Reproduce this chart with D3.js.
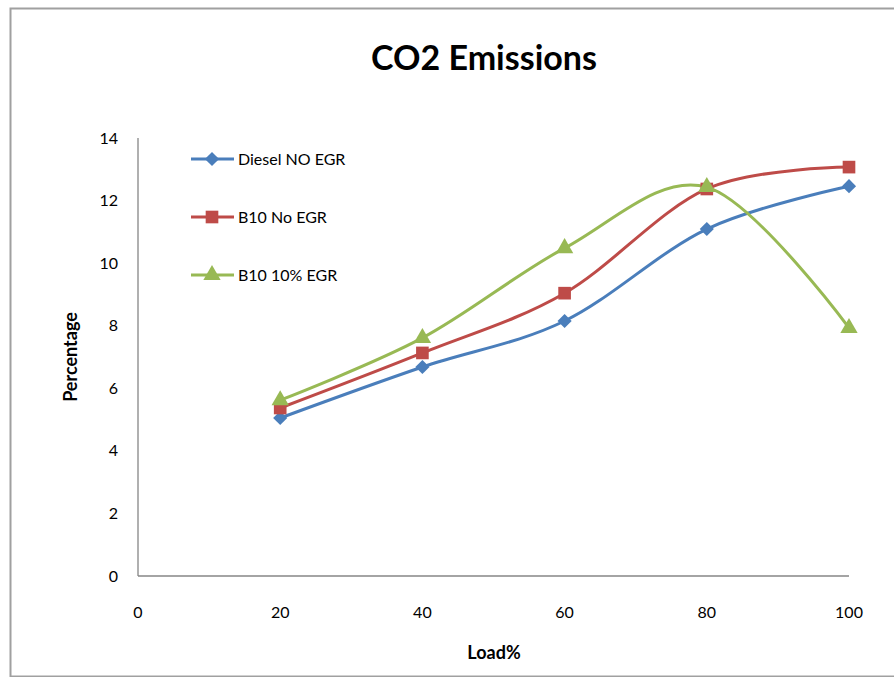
<!DOCTYPE html>
<html>
<head>
<meta charset="utf-8">
<script src="https://cdn.jsdelivr.net/npm/d3@7"></script>
<style>
  body { margin: 0; background: #fff; }
  text { font-family: Lato, "Open Sans", sans-serif; fill: #000; }
</style>
</head>
<body>
<div id="vis"></div>
<script>
// ----- DATA ----- //
const loads = [20, 40, 60, 80, 100];
const dieselNoEgr = [5.05, 6.68, 8.15, 11.09, 12.46];
const b10NoEgr = [5.37, 7.13, 9.04, 12.37, 13.07];
const b10Egr10 = [5.62, 7.61, 10.48, 12.43, 7.93];
const seriesNames = ["Diesel NO EGR", "B10 No EGR", "B10 10% EGR"];
const xTicks = [0, 20, 40, 60, 80, 100];
const yTicks = [0, 2, 4, 6, 8, 10, 12, 14];

const seriesValues = [dieselNoEgr, b10NoEgr, b10Egr10];
const colors = ["#4a7ebb", "#be4b48", "#98b954"];

// excel-style diamond: a square turned 45 degrees
const symbolWideDiamond = {
  draw(ctx, size) {
    const r = Math.sqrt(size / 2);
    ctx.moveTo(0, -r);
    ctx.lineTo(r, 0);
    ctx.lineTo(0, r);
    ctx.lineTo(-r, 0);
    ctx.closePath();
  }
};
const symbols = [symbolWideDiamond, d3.symbolSquare, d3.symbolTriangle];
const symSizes = [100, 160, 130];

const W = 894, H = 677;
const svg = d3.select("#vis").append("svg")
  .attr("width", W)
  .attr("height", H);

// outer chart frame
svg.append("rect")
  .attr("x", 10.5).attr("y", 8.5)
  .attr("width", W + 20).attr("height", 668)
  .attr("fill", "none")
  .attr("stroke", "#a0a0a0")
  .attr("stroke-width", 2);

// ----- SCALES ----- //
const x = d3.scaleLinear().domain([0, 100]).range([138, 849]);
const y = d3.scaleLinear().domain([0, 14]).range([576, 138]);

// axes lines (no tick marks)
svg.append("line")
  .attr("x1", x(0)).attr("x2", x(0))
  .attr("y1", y(14)).attr("y2", y(0))
  .attr("stroke", "#868686").attr("stroke-width", 1.3);
svg.append("line")
  .attr("x1", x(0)).attr("x2", x(100))
  .attr("y1", y(0)).attr("y2", y(0))
  .attr("stroke", "#868686").attr("stroke-width", 1.3);

// tick labels
svg.selectAll(".ytick")
  .data(yTicks)
  .join("text")
  .attr("class", "ytick")
  .attr("x", 118)
  .attr("y", (d) => y(d))
  .attr("dy", "0.35em")
  .attr("text-anchor", "end")
  .style("font-size", "16px")
  .text((d) => d);

svg.selectAll(".xtick")
  .data(xTicks)
  .join("text")
  .attr("class", "xtick")
  .attr("x", (d) => x(d))
  .attr("y", 612)
  .attr("dy", "0.35em")
  .attr("text-anchor", "middle")
  .style("font-size", "16px")
  .text((d) => d);

// axis titles
svg.append("text")
  .attr("x", 494).attr("y", 659)
  .attr("text-anchor", "middle")
  .style("font-size", "18px")
  .style("font-weight", "bold")
  .text("Load%");

svg.append("text")
  .attr("transform", "translate(77,357) rotate(-90)")
  .attr("text-anchor", "middle")
  .style("font-size", "18px")
  .style("font-weight", "bold")
  .text("Percentage");

// title
svg.append("text")
  .attr("x", 484).attr("y", 70)
  .attr("text-anchor", "middle")
  .style("font-size", "34px")
  .style("font-weight", "bold")
  .text("CO2 Emissions");

// ----- LINES ----- //
const line = d3.line()
  .x((d, i) => x(loads[i]))
  .y((d) => y(d))
  .curve(d3.curveCatmullRom.alpha(0));

seriesValues.forEach((vals, s) => {
  svg.append("path")
    .datum(vals)
    .attr("d", line)
    .attr("fill", "none")
    .attr("stroke", colors[s])
    .attr("stroke-width", 3);
});

seriesValues.forEach((vals, s) => {
  svg.selectAll(".pt" + s)
    .data(vals)
    .join("path")
    .attr("class", "pt" + s)
    .attr("transform", (d, i) => `translate(${x(loads[i])},${y(d)})`)
    .attr("d", d3.symbol().type(symbols[s]).size(symSizes[s]))
    .attr("fill", colors[s]);
});

// ----- LEGEND ----- //
const legendY = [159, 217, 275];
seriesNames.forEach((name, s) => {
  const g = svg.append("g").attr("transform", `translate(0,${legendY[s]})`);
  g.append("line")
    .attr("x1", 191).attr("x2", 234)
    .attr("stroke", colors[s]).attr("stroke-width", 3);
  g.append("path")
    .attr("transform", "translate(212,0)")
    .attr("d", d3.symbol().type(symbols[s]).size(symSizes[s]))
    .attr("fill", colors[s]);
  g.append("text")
    .attr("x", 238)
    .attr("dy", "0.35em")
    .style("font-size", "16px")
    .text(name);
});
</script>
</body>
</html>
